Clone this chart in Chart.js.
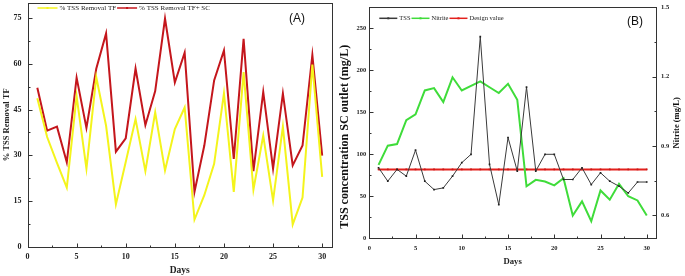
<!DOCTYPE html>
<html>
<head>
<meta charset="utf-8">
<script src="https://cdn.jsdelivr.net/npm/chart.js@4.4.1/dist/chart.umd.min.js"></script>
<style>
  html, body { margin: 0; padding: 0; background: #fff; }
  #wrap { position: relative; width: 685px; height: 276px; overflow: hidden; }
  canvas { position: absolute; top: 0; }
  #chartA { left: 0; }
  #chartB { left: 335px; }
</style>
</head>
<body>
<div id="wrap">
  <canvas id="chartA" width="335" height="276"></canvas>
  <canvas id="chartB" width="350" height="276"></canvas>
</div>
<script>
// --- Data ---
const days = [1, 2, 3, 4, 5, 6, 7, 8, 9, 10, 11, 12, 13, 14, 15,
              16, 17, 18, 19, 20, 21, 22, 23, 24, 25, 26, 27, 28, 29, 30];

// panel A: % TSS removal
const removalTF = [48.7, 36, 27.5, 19.4, 49.4, 25.6, 55.7, 39.7, 13.9, 27.8,
                   41.9, 24.8, 44.1, 25.0, 38.6, 45.7, 8.9, 16.9, 27.2, 50.3,
                   18.0, 57.3, 18.7, 36.5, 15.2, 39.4, 7.3, 16.1, 59.8, 22.9];
const removalTFSC = [52.2, 38.1, 39.4, 27.7, 55.5, 39.0, 58.4, 70.0, 31.2, 35.6,
                     58.5, 39.9, 51.1, 74.9, 53.9, 63.7, 18.0, 33.2, 54.6, 64.4,
                     28.8, 68.2, 24.8, 50.8, 25.6, 50.3, 26.7, 33.2, 62.9, 29.9];

// panel B: TSS at SC outlet (mg/L), nitrite (mg/L), design value
const tssOutlet = [84, 68, 82, 74, 105, 68, 58, 60, 74, 90,
                   100, 240, 88, 40, 120, 80, 180, 80, 100, 100,
                   70, 70, 84, 64, 78, 68, 62, 54, 67, 67];
const nitrite = [0.818, 0.901, 0.908, 1.011, 1.037, 1.140, 1.150, 1.090, 1.197, 1.140,
                 1.160, 1.179, 1.154, 1.129, 1.169, 1.100, 0.725, 0.753, 0.746, 0.729,
                 0.760, 0.599, 0.660, 0.574, 0.707, 0.667, 0.736, 0.682, 0.664, 0.599];
const designValue = [82, 82, 82, 82, 82, 82, 82, 82, 82, 82,
                     82, 82, 82, 82, 82, 82, 82, 82, 82, 82,
                     82, 82, 82, 82, 82, 82, 82, 82, 82, 82];

const toPoints = arr => days.map((d, i) => ({ x: d, y: arr[i] }));

Chart.defaults.font.family = '"Liberation Serif", "Times New Roman", serif';
Chart.defaults.color = '#222';

// --- Plugins ---
// box frame + inward tick marks (major = labelled tick)
const frameTicks = {
  id: 'frameTicks',
  afterDraw(chart) {
    const ctx = chart.ctx;
    const a = chart.chartArea;
    const L = Math.round(a.left) + 0.5, R = Math.round(a.right) + 0.5;
    const T = Math.round(a.top) + 0.5, B = Math.round(a.bottom) + 0.5;
    ctx.save();
    ctx.strokeStyle = '#333';
    ctx.lineWidth = 1;
    ctx.strokeRect(L, T, R - L, B - T);
    Object.values(chart.scales).forEach(scale => {
      scale.ticks.forEach(t => {
        const len = t.label !== '' ? 4 : 2;
        const p = Math.round(scale.getPixelForValue(t.value)) + 0.5;
        ctx.beginPath();
        if (scale.axis === 'x') {
          ctx.moveTo(p, B); ctx.lineTo(p, B - len);
        } else if (scale.position === 'left') {
          ctx.moveTo(L, p); ctx.lineTo(L + len, p);
        } else {
          ctx.moveTo(R, p); ctx.lineTo(R - len, p);
        }
        ctx.stroke();
      });
    });
    ctx.restore();
  }
};

// legend drawn inside the plot, top left
const insideLegend = {
  id: 'insideLegend',
  afterDraw(chart, args, opts) {
    const ctx = chart.ctx;
    let x = chart.chartArea.left + opts.offsetX;
    const y = chart.chartArea.top + opts.offsetY;
    ctx.save();
    ctx.font = opts.font;
    ctx.textBaseline = 'middle';
    chart.data.datasets.forEach(ds => {
      ctx.strokeStyle = ds.borderColor;
      ctx.lineWidth = 1.5;
      ctx.beginPath();
      ctx.moveTo(x, y);
      ctx.lineTo(x + opts.lineLen, y);
      ctx.stroke();
      ctx.fillStyle = ds.borderColor;
      ctx.fillRect(x + opts.lineLen / 2 - 1, y - 1, 2, 2);
      x += opts.lineLen + 2;
      ctx.fillStyle = '#222';
      ctx.fillText(ds.label, x, y);
      x += ctx.measureText(ds.label).width + 1;
    });
    ctx.restore();
  }
};

// panel letter + rotated axis titles (bottom-to-top)
const panelTag = {
  id: 'panelTag',
  afterDraw(chart, args, opts) {
    const ctx = chart.ctx;
    const a = chart.chartArea;
    ctx.save();
    ctx.font = '12px "Liberation Sans", Arial, sans-serif';
    ctx.fillStyle = '#111';
    ctx.textAlign = 'center';
    ctx.textBaseline = 'middle';
    ctx.fillText(opts.text, a.right - opts.dx, a.top + opts.dy);
    (opts.sideTitles || []).forEach(st => {
      ctx.save();
      ctx.font = st.font;
      ctx.translate(st.x, (a.top + a.bottom) / 2 + st.dy);
      ctx.rotate(-Math.PI / 2);
      ctx.fillText(st.text, 0, 0);
      ctx.restore();
    });
    ctx.restore();
  }
};

const isMultiple = (v, step) => Math.abs(v / step - Math.round(v / step)) < 1e-6;
const noPadY = w => s => { s.width = w; s.paddingTop = 0; s.paddingBottom = 0; };
const noPadX = h => s => { s.height = h; s.paddingLeft = 0; s.paddingRight = 0; };

// --- Panel A ---
new Chart(document.getElementById('chartA'), {
  type: 'line',
  data: {
    datasets: [
      { label: '% TSS Removal TF', data: toPoints(removalTF),
        borderColor: '#f4f41c', borderWidth: 2, pointRadius: 0 },
      { label: '% TSS Removal TF+ SC', data: toPoints(removalTFSC),
        borderColor: '#c4161c', borderWidth: 2, pointRadius: 0 }
    ]
  },
  options: {
    responsive: false,
    animation: false,
    layout: { padding: { top: 3, right: 3, left: 0, bottom: 0 } },
    elements: { line: { tension: 0 } },
    scales: {
      x: {
        type: 'linear', min: 0, max: 31,
        grid: { display: false, drawTicks: false }, border: { display: false },
        afterFit: noPadX(29.3),
        ticks: {
          stepSize: 2.5, includeBounds: false, autoSkip: false, maxRotation: 0,
          padding: 5, font: { size: 8, weight: 'bold' },
          callback: v => isMultiple(v, 5) ? String(v) : ''
        },
        title: { display: true, text: 'Days', font: { size: 9.5, weight: 'bold' },
                 padding: { top: 0, bottom: 0 } }
      },
      y: {
        min: 0, max: 80,
        grid: { display: false, drawTicks: false }, border: { display: false },
        afterFit: noPadY(27.5),
        ticks: {
          stepSize: 7.5, includeBounds: false, autoSkip: false,
          padding: 6, font: { size: 8, weight: 'bold' },
          callback: v => isMultiple(v, 15) ? String(v) : ''
        },
        title: { display: true, text: '% TSS Removal TF', font: { size: 8.5, weight: 'bold' },
                 padding: { top: 2, bottom: 0 } }
      }
    },
    plugins: {
      legend: { display: false },
      tooltip: { enabled: false },
      insideLegend: { offsetX: 10, offsetY: 5, lineLen: 20, font: '7px "Liberation Serif", serif' },
      panelTag: { text: '(A)', dx: 35, dy: 16 }
    }
  },
  plugins: [frameTicks, insideLegend, panelTag]
});

// --- Panel B ---
new Chart(document.getElementById('chartB'), {
  type: 'line',
  data: {
    datasets: [
      { label: 'TSS', data: toPoints(tssOutlet), yAxisID: 'y',
        borderColor: '#3a3a3a', borderWidth: 1, pointRadius: 1.2,
        pointStyle: 'rect', pointBackgroundColor: '#222', pointBorderWidth: 0 },
      { label: 'Nitrite', data: toPoints(nitrite), yAxisID: 'y1',
        borderColor: '#3fdc3a', borderWidth: 2, pointRadius: 0 },
      { label: 'Design value', data: toPoints(designValue), yAxisID: 'y',
        borderColor: '#e3201c', borderWidth: 2, pointRadius: 1.2,
        pointStyle: 'rect', pointBackgroundColor: '#c81818', pointBorderWidth: 0 }
    ]
  },
  options: {
    responsive: false,
    animation: false,
    layout: { padding: { top: 7.3, right: 0, left: 0, bottom: 0 } },
    elements: { line: { tension: 0 } },
    scales: {
      x: {
        type: 'linear', min: 0, max: 31,
        grid: { display: false, drawTicks: false }, border: { display: false },
        afterFit: noPadX(37.7),
        ticks: {
          stepSize: 2.5, includeBounds: false, autoSkip: false, maxRotation: 0,
          padding: 6, font: { size: 6.5, weight: 'bold' },
          callback: v => isMultiple(v, 5) ? String(v) : ''
        },
        title: { display: true, text: 'Days', font: { size: 8.7, weight: 'bold' },
                 padding: { top: 0, bottom: 9 } }
      },
      y: {
        position: 'left', min: 0, max: 275,
        grid: { display: false, drawTicks: false }, border: { display: false },
        afterFit: noPadY(34.3),
        ticks: {
          stepSize: 25, includeBounds: false, autoSkip: false,
          padding: 3, font: { size: 6.5, weight: 'bold' },
          callback: v => isMultiple(v, 50) ? String(v) : ''
        }
      },
      y1: {
        position: 'right', min: 0.5, max: 1.5,
        grid: { display: false, drawTicks: false }, border: { display: false },
        afterFit: noPadY(29),
        ticks: {
          stepSize: 0.15, includeBounds: false, autoSkip: false,
          padding: 5, font: { size: 6.5, weight: 'bold' },
          callback: v => isMultiple(v, 0.3) ? v.toFixed(1) : ''
        }
      }
    },
    plugins: {
      legend: { display: false },
      tooltip: { enabled: false },
      insideLegend: { offsetX: 10, offsetY: 11, lineLen: 18, font: '6.5px "Liberation Serif", serif' },
      panelTag: {
        text: '(B)', dx: 21, dy: 14,
        sideTitles: [
          { text: 'TSS concentration SC outlet (mg/L)', x: 10, dy: 14,
            font: 'bold 12px "Liberation Serif", serif' },
          { text: 'Nitrite (mg/L)', x: 341.5, dy: 0,
            font: 'bold 8.5px "Liberation Serif", serif' }
        ]
      }
    }
  },
  plugins: [frameTicks, insideLegend, panelTag]
});
</script>
</body>
</html>
